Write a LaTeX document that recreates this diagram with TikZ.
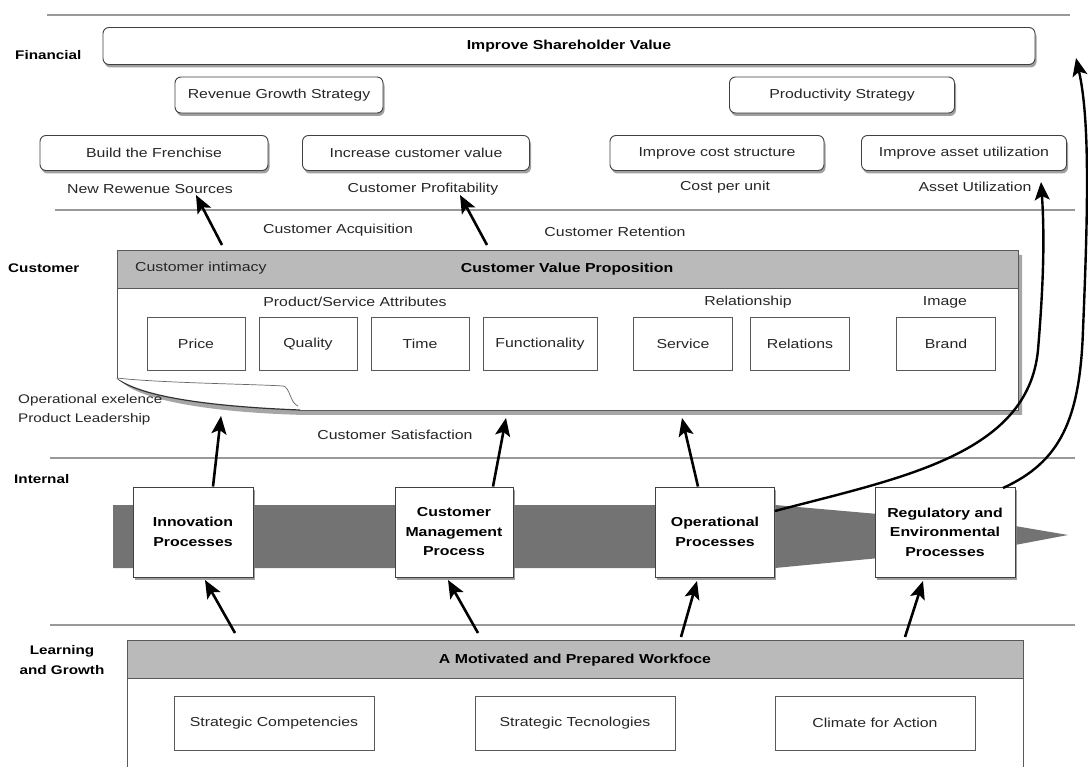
\documentclass[tikz,border=0pt]{standalone}
\usepackage{fontspec}
\setmainfont[FakeStretch=1.22]{Liberation Sans}
\usetikzlibrary{shadows,arrows.meta,calc}
\begin{document}
\begin{tikzpicture}[x=1pt,y=-1pt,
  txt/.style={font=\fontsize{13}{15}\selectfont, inner sep=0pt, text=black!85},
  rowlbl/.style={font=\bfseries\fontsize{12.5}{20}\selectfont, inner sep=0pt, align=center},
  rbox/.style={draw=black!75, line width=0.9pt, rounded corners=6pt, fill=white,
    drop shadow={shadow xshift=1.5pt, shadow yshift=-3pt, opacity=0.75},
    font=\fontsize{13}{15}\selectfont, inner sep=0pt, text=black!85},
  attr/.style={draw=black!65, line width=0.8pt, fill=white, minimum width=98pt,
    minimum height=53pt, font=\fontsize{13}{15}\selectfont, inner sep=0pt, text=black!85},
  proc/.style={draw=black!75, line width=0.9pt, fill=white, minimum height=90pt,
    drop shadow={shadow xshift=1.5pt, shadow yshift=-3pt, opacity=0.75},
    font=\bfseries\fontsize{13}{19.5}\selectfont, align=center, inner sep=0pt},
  sbox/.style={draw=black!65, line width=0.8pt, fill=white, minimum width=200pt,
    minimum height=54pt, font=\fontsize{13}{15}\selectfont, inner sep=0pt, text=black!85},
  sep/.style={draw=black!40, line width=1.2pt},
  arr/.style={line width=2.6pt, -{Stealth[length=18pt,width=15pt,inset=4pt]}},
  curv/.style={line width=2.4pt, -{Stealth[length=18pt,width=15pt,inset=4pt]}}
]
\useasboundingbox (0,0) rectangle (1088,767);
\fill[white] (0,0) rectangle (1088,767);

% perspective separators
\draw[sep] (47,15) -- (1070,15);
\draw[sep] (55,210) -- (1075,210);
\draw[sep] (50,458) -- (1075,458);
\draw[sep] (50,625) -- (1075,625);

% ---------------- Financial ----------------
\node[rowlbl, anchor=west] (lfin) at (15,55) {Financial};
\node[rbox, minimum width=932pt, minimum height=37pt, text=black, font=\bfseries\fontsize{13}{15}\selectfont] (shv) at (569,46) {Improve Shareholder Value};
\node[rbox, minimum width=208pt, minimum height=36pt] (rgs) at (279,95) {Revenue Growth Strategy};
\node[rbox, minimum width=225pt, minimum height=36pt] (ps) at (842,95) {Productivity Strategy};
\node[rbox, minimum width=228pt, minimum height=35pt] (btf) at (154,153) {Build the Frenchise};
\node[rbox, minimum width=227pt, minimum height=35pt] (icv) at (416,153) {Increase customer value};
\node[rbox, minimum width=214pt, minimum height=35pt] (ics) at (717,153) {Improve cost structure};
\node[rbox, minimum width=205pt, minimum height=35pt] (iau) at (964,153) {Improve asset utilization};
\node[txt] (nrs) at (150,189) {New Rewenue Sources};
\node[txt] (cpr) at (423,189) {Customer Profitability};
\node[txt] (cpu) at (725,187) {Cost per unit};
\node[txt] (aut) at (975,187) {Asset Utilization};
\node[txt] (cacq) at (338,230) {Customer Acquisition};
\node[txt] (cret) at (615,232) {Customer Retention};

% ---------------- Customer ----------------
\node[rowlbl, anchor=west] (lcus) at (8,268) {Customer};
% value proposition panel with a curled lower-left corner
\fill[black!35] (122,382) .. controls (145,403) and (225,413) .. (305,415) -- (1022,415)
  -- (1022,255) -- (1018,255) -- (1018,410) -- (300,410) .. controls (220,407) and (140,398) .. (117,378) -- cycle;
\fill[white]
  (117,250) -- (1018,250) -- (1018,410) -- (300,410)
  .. controls (220,407) and (140,398) .. (117,378) -- cycle;
\fill[black!27] (117,250) rectangle (1018,288);
\draw[black!65, line width=0.8pt] (117,288) -- (1018,288);
\draw[black!65, line width=0.8pt] (117,378) -- (117,250) -- (1018,250) -- (1018,410) -- (300,410);
\draw[black!80, line width=1.2pt] (117,378) .. controls (140,398) and (220,407) .. (300,410);
\fill[white] (117,378) .. controls (160,383) and (250,384) .. (283,386)
  .. controls (290,387) and (290,403) .. (298,406)
  .. controls (220,404) and (140,395) .. (117,378);
\draw[black!60, line width=0.7pt] (117,378) .. controls (160,383) and (250,384) .. (283,386)
  .. controls (290,387) and (290,403) .. (298,406);
\node[txt, anchor=west] (cint) at (135,268) {Customer intimacy};
\node[txt, text=black, font=\bfseries\fontsize{13}{15}\selectfont] (cvp) at (567,269) {Customer Value Proposition};
\node[txt] (psa) at (355,302) {Product/Service Attributes};
\node[txt] (rel) at (748,302) {Relationship};
\node[txt] (img) at (945,302) {Image};
\node[attr] (price) at (196,344) {Price};
\node[attr] (qual) at (308,344) {Quality};
\node[attr] (time) at (420,344) {Time};
\node[attr, minimum width=114pt] (func) at (540,344) {Functionality};
\node[attr, minimum width=99pt] (serv) at (683,344) {Service};
\node[attr, minimum width=99pt] (rels) at (800,344) {Relations};
\node[attr, minimum width=99pt] (brand) at (946,344) {Brand};
\node[txt, anchor=west, align=left, font=\fontsize{12.5}{19}\selectfont] (opx) at (18,410) {Operational exelence\\Product Leadership};
\node[txt] (csat) at (395,435) {Customer Satisfaction};

% ---------------- Internal ----------------
\node[rowlbl, anchor=west] (lint) at (14,479) {Internal};
\fill[black!55] (113,505) -- (775,505) -- (1015,526) -- (1068,535) -- (1015,545)
  -- (775,568) -- (113,568) -- cycle;
\node[proc, minimum width=120pt] (inn) at (193,532) {Innovation\\Processes};
\node[proc, minimum width=118pt] (cmp) at (454,532) {Customer\\Management\\Process};
\node[proc, minimum width=119pt] (opp) at (715,532) {Operational\\Processes};
\node[proc, minimum width=140pt] (rep) at (945,532) {Regulatory and\\Environmental\\Processes};

% ---------------- Learning and Growth ----------------
\node[rowlbl] (llg) at (62,660) {Learning\\and Growth};
\node[draw=black!65, line width=0.8pt, fill=white, minimum width=896pt, minimum height=140pt,
  anchor=north west, inner sep=0pt] (wfp) at (127,640) {};
\fill[black!27] (127,640) rectangle (1023,678);
\draw[black!65, line width=0.8pt] (127,678) -- (1023,678);
\draw[black!65, line width=0.8pt] (127,640) rectangle (1023,780);
\node[txt, text=black, font=\bfseries\fontsize{13}{15}\selectfont] (amw) at (575,660) {A Motivated and Prepared Workfoce};
\node[sbox] (scomp) at (274,723) {Strategic Competencies};
\node[sbox] (stech) at (575,723) {Strategic Tecnologies};
\node[sbox] (clim) at (875,723) {Climate for Action};

% ---------------- connectors ----------------
% customer to financial
\coordinate (a1s) at (222,245); \coordinate (a1e) at (196,195);
\coordinate (a2s) at (487,245); \coordinate (a2e) at (460,195);
\draw[arr] (a1s) -- (a1e);
\draw[arr] (a2s) -- (a2e);
% internal to customer
\coordinate (b1e) at (221,416); \coordinate (b2e) at (506,418); \coordinate (b3e) at (682,418);
\draw[arr] (inn.north -| 213,0) -- (b1e);
\draw[arr] (cmp.north -| 493,0) -- (b2e);
\draw[arr] (opp.north -| 698,0) -- (b3e);
% learning to internal
\coordinate (c1s) at (235,633); \coordinate (c1e) at (205,580);
\coordinate (c2s) at (478,633); \coordinate (c2e) at (448,580);
\coordinate (c3s) at (681,637); \coordinate (c3e) at (697,581);
\coordinate (c4s) at (905,637); \coordinate (c4e) at (923,581);
\draw[arr] (c1s) -- (c1e);
\draw[arr] (c2s) -- (c2e);
\draw[arr] (c3s) -- (c3e);
\draw[arr] (c4s) -- (c4e);
% internal processes to financial results
\coordinate (d1s) at (775,511);
\coordinate (d1e) at (1041,182);
\draw[curv] (d1s) .. controls (900,478) and (1028,455) .. (1038,350)
  .. controls (1043,290) and (1045,240) .. (d1e);
\coordinate (d2s) at (1003,488);
\coordinate (d2e) at (1076,58);
\draw[curv] (d2s) .. controls (1060,462) and (1080,420) .. (1083,330)
  .. controls (1088,210) and (1090,120) .. (d2e);
\end{tikzpicture}
\end{document}
